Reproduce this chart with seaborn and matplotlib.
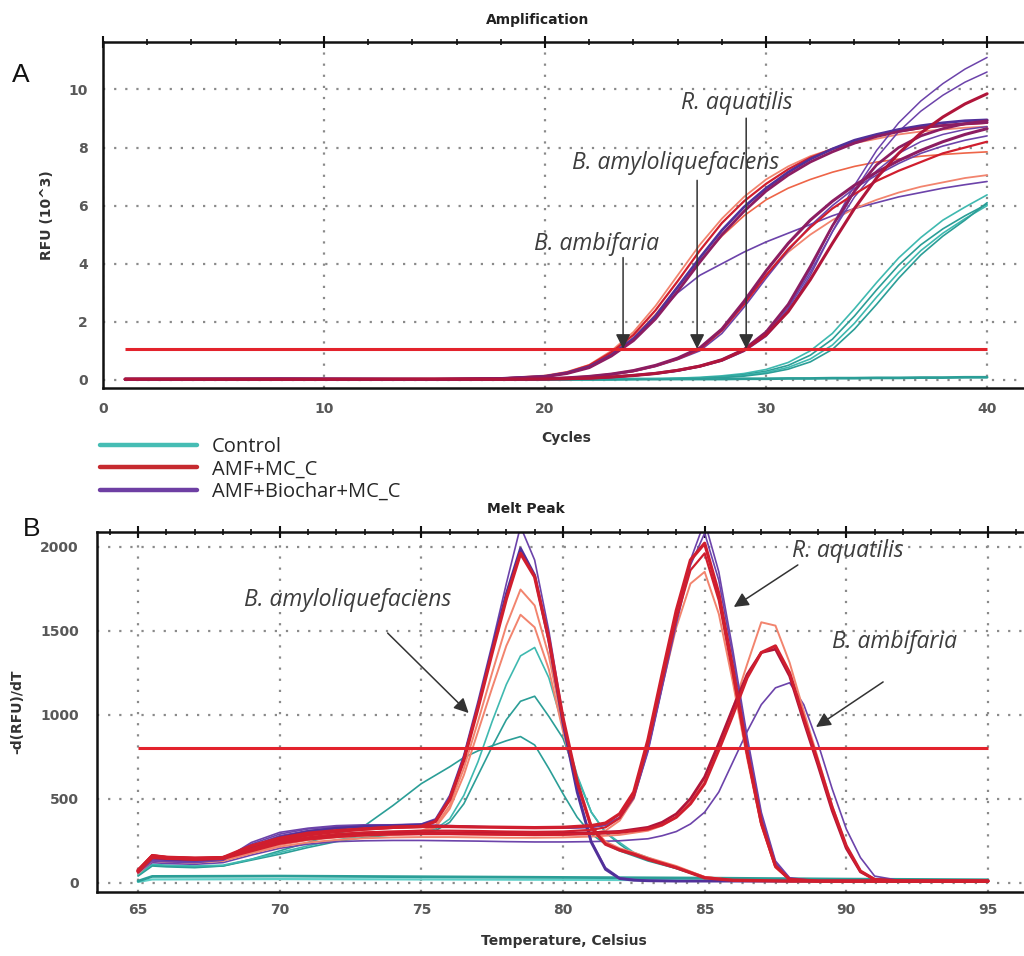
import numpy as np
import pandas as pd
import matplotlib
matplotlib.use("Agg")
import matplotlib.pyplot as plt
from matplotlib.lines import Line2D
from matplotlib.ticker import MultipleLocator
import seaborn as sns

sns.set_style("white")
plt.rcParams['font.family'] = ['DejaVu Sans']

# ---------------- Panel A: amplification (RFU x 10^3) ----------------
CYCLES = [1, 8, 15, 18, 20, 21, 22, 23, 24, 25, 26, 27, 28, 29, 30, 31, 32, 33, 34, 35, 36, 37, 38, 39, 40]

# Control wells
ctrl_1 = [0.01, 0.02, 0.01, 0.01, 0.01, 0.01, 0.02, 0.02, 0.03, 0.04, 0.06, 0.09, 0.14, 0.22, 0.36, 0.6, 1.0, 1.6, 2.45, 3.35, 4.2, 4.9, 5.5, 5.95, 6.37]
ctrl_2 = [0.01, 0.01, 0.02, 0.01, 0.01, 0.01, 0.01, 0.02, 0.02, 0.03, 0.05, 0.07, 0.11, 0.18, 0.3, 0.5, 0.85, 1.4, 2.2, 3.1, 3.95, 4.65, 5.2, 5.65, 6.05]
ctrl_3 = [0.01, 0.01, 0.01, 0.01, 0.01, 0.01, 0.01, 0.02, 0.02, 0.03, 0.04, 0.06, 0.09, 0.15, 0.26, 0.43, 0.72, 1.2, 1.95, 2.85, 3.7, 4.45, 5.05, 5.55, 6.0]
ctrl_4 = [0.01, 0.02, 0.01, 0.01, 0.01, 0.01, 0.01, 0.01, 0.02, 0.02, 0.03, 0.05, 0.08, 0.13, 0.22, 0.37, 0.62, 1.05, 1.75, 2.6, 3.5, 4.3, 4.95, 5.5, 6.1]
ctrl_flat = [0.02, 0.02, 0.02, 0.02, 0.02, 0.02, 0.02, 0.02, 0.03, 0.03, 0.03, 0.03, 0.03, 0.04, 0.04, 0.05, 0.05, 0.06, 0.06, 0.07, 0.07, 0.08, 0.08, 0.09, 0.09]

# early wells (B. ambifaria, Ct ~23.5)
amb_salmon = [0.02, 0.03, 0.03, 0.06, 0.15, 0.28, 0.52, 1.0, 1.65, 2.55, 3.6, 4.65, 5.55, 6.3, 6.9, 7.35, 7.7, 7.95, 8.15, 8.3, 8.45, 8.55, 8.62, 8.68, 8.72]
amb_purple = [0.03, 0.04, 0.02, 0.05, 0.12, 0.24, 0.45, 0.85, 1.4, 2.2, 3.2, 4.2, 5.15, 5.95, 6.6, 7.15, 7.6, 7.95, 8.25, 8.45, 8.62, 8.75, 8.85, 8.92, 8.95]
amb_red = [0.02, 0.02, 0.03, 0.05, 0.13, 0.26, 0.5, 0.95, 1.55, 2.4, 3.4, 4.45, 5.4, 6.15, 6.75, 7.25, 7.65, 7.95, 8.2, 8.4, 8.55, 8.67, 8.75, 8.8, 8.85]
amb_purple_low = [0.02, 0.03, 0.02, 0.05, 0.12, 0.24, 0.46, 0.88, 1.45, 2.2, 3.0, 3.6, 4.0, 4.4, 4.75, 5.05, 5.35, 5.65, 5.9, 6.1, 6.3, 6.45, 6.6, 6.72, 6.83]
amb_orange = [0.03, 0.02, 0.03, 0.05, 0.12, 0.24, 0.46, 0.9, 1.45, 2.25, 3.2, 4.1, 4.95, 5.65, 6.2, 6.6, 6.9, 7.15, 7.35, 7.5, 7.6, 7.7, 7.76, 7.81, 7.85]
amb_magenta = [0.02, 0.03, 0.02, 0.04, 0.11, 0.22, 0.42, 0.82, 1.35, 2.1, 3.05, 4.05, 5.0, 5.8, 6.5, 7.05, 7.5, 7.85, 8.15, 8.38, 8.55, 8.68, 8.76, 8.82, 8.86]

# middle wells (B. amyloliquefaciens, Ct ~27)
amy_magenta = [0.02, 0.03, 0.02, 0.02, 0.04, 0.07, 0.12, 0.2, 0.32, 0.5, 0.75, 1.1, 1.75, 2.7, 3.75, 4.7, 5.5, 6.15, 6.7, 7.15, 7.55, 7.9, 8.2, 8.45, 8.65]
amy_red = [0.02, 0.02, 0.03, 0.03, 0.04, 0.07, 0.11, 0.19, 0.3, 0.48, 0.72, 1.05, 1.7, 2.6, 3.6, 4.5, 5.25, 5.9, 6.4, 6.85, 7.2, 7.5, 7.8, 8.0, 8.2]
amy_purple = [0.03, 0.03, 0.02, 0.03, 0.04, 0.06, 0.11, 0.18, 0.29, 0.46, 0.7, 1.0, 1.6, 2.5, 3.5, 4.45, 5.3, 6.0, 6.6, 7.05, 7.45, 7.8, 8.05, 8.25, 8.4]
amy_salmon = [0.02, 0.03, 0.02, 0.03, 0.05, 0.08, 0.13, 0.21, 0.33, 0.5, 0.75, 1.1, 1.75, 2.65, 3.6, 4.4, 5.0, 5.5, 5.9, 6.2, 6.45, 6.65, 6.8, 6.95, 7.05]

# late wells (R. aquatilis, Ct ~29)
aqu_purple_1 = [0.02, 0.02, 0.02, 0.02, 0.02, 0.04, 0.06, 0.1, 0.15, 0.22, 0.32, 0.48, 0.7, 1.05, 1.6, 2.5, 3.8, 5.3, 6.7, 7.9, 8.85, 9.6, 10.2, 10.7, 11.1]
aqu_purple_2 = [0.02, 0.03, 0.02, 0.02, 0.02, 0.03, 0.05, 0.09, 0.14, 0.2, 0.3, 0.45, 0.65, 0.98, 1.5, 2.35, 3.6, 5.1, 6.5, 7.65, 8.55, 9.25, 9.8, 10.25, 10.6]
aqu_red = [0.03, 0.02, 0.03, 0.02, 0.03, 0.04, 0.06, 0.1, 0.15, 0.22, 0.33, 0.47, 0.68, 1.02, 1.55, 2.35, 3.45, 4.7, 5.9, 6.95, 7.8, 8.5, 9.05, 9.5, 9.85]
aqu_magenta = [0.02, 0.02, 0.02, 0.03, 0.03, 0.04, 0.06, 0.1, 0.16, 0.23, 0.33, 0.48, 0.7, 1.05, 1.65, 2.6, 3.9, 5.3, 6.5, 7.4, 8.0, 8.4, 8.65, 8.82, 8.92]
aqu_purple_3 = [0.02, 0.03, 0.02, 0.02, 0.03, 0.04, 0.06, 0.09, 0.14, 0.21, 0.31, 0.45, 0.66, 1.0, 1.55, 2.45, 3.7, 5.1, 6.3, 7.2, 7.8, 8.2, 8.45, 8.62, 8.72]

AMP_THRESHOLD = 1.07

# ---------------- Panel B: melt peaks (-d(RFU)/dT) ----------------
T_PEAK1 = [65, 65.5, 66, 67, 68, 69, 70, 71, 72, 73, 74, 75, 75.5, 76, 76.5, 77, 77.5, 78, 78.5, 79, 79.5,
           80, 80.5, 81, 81.5, 82, 82.5, 83, 84, 85, 86, 88, 95]
p1_purple = [60, 140, 130, 125, 140, 230, 290, 320, 335, 340, 345, 350, 380, 520, 760, 1080, 1420, 1780, 2120, 1920, 1500,
             990, 560, 250, 90, 30, 20, 15, 12, 10, 10, 10, 10]
p1_purple_d = [70, 150, 140, 135, 145, 210, 270, 305, 325, 335, 340, 345, 370, 500, 740, 1050, 1390, 1720, 1990, 1830, 1440,
               950, 540, 240, 80, 25, 15, 12, 10, 10, 10, 10, 10]
p1_red = [75, 160, 150, 140, 150, 220, 265, 295, 310, 320, 330, 335, 365, 495, 730, 1040, 1370, 1690, 1960, 1820, 1450,
          980, 600, 330, 230, 195, 170, 140, 90, 30, 15, 10, 10]
p1_salmon_1 = [65, 145, 135, 130, 140, 200, 245, 275, 290, 300, 305, 310, 340, 460, 680, 960, 1250, 1530, 1745, 1650, 1350,
               930, 590, 340, 240, 200, 175, 145, 95, 35, 15, 10, 10]
p1_salmon_2 = [60, 140, 130, 125, 135, 190, 235, 265, 280, 290, 295, 300, 330, 440, 640, 900, 1160, 1410, 1595, 1520, 1270,
               900, 580, 340, 245, 205, 180, 150, 100, 35, 15, 10, 10]
p1_teal_1 = [50, 110, 105, 100, 105, 140, 180, 220, 255, 280, 295, 305, 320, 380, 520, 720, 960, 1180, 1350, 1400, 1220,
             930, 640, 420, 300, 240, 180, 150, 90, 30, 15, 10, 10]
p1_teal_2 = [45, 105, 100, 95, 100, 135, 170, 210, 245, 270, 285, 295, 310, 360, 470, 640, 810, 970, 1080, 1110, 990,
             860, 630, 420, 300, 230, 170, 140, 85, 30, 15, 10, 10]
p1_teal_3 = [40, 100, 95, 90, 100, 140, 190, 240, 290, 340, 460, 590, 640, 690, 745, 785, 815, 845, 870, 820, 680,
             530, 390, 290, 230, 190, 160, 130, 85, 30, 15, 10, 10]

T_PEAK2 = [65, 65.5, 66, 67, 68, 69, 70, 71, 72, 73, 74, 75, 76, 77, 78, 79, 80, 81,
           81.5, 82, 82.5, 83, 83.5, 84, 84.5, 85, 85.5, 86, 86.5, 87, 87.5, 88, 89, 90, 95]
p2_purple_1 = [60, 130, 125, 120, 135, 240, 300, 325, 340, 345, 345, 345, 340, 335, 330, 328, 325, 330,
               345, 390, 510, 790, 1170, 1560, 1920, 2150, 1850, 1380, 870, 420, 130, 30, 10, 10, 10]
p2_purple_2 = [65, 135, 130, 125, 135, 220, 280, 310, 330, 338, 340, 340, 338, 333, 330, 326, 325, 330,
               342, 385, 505, 780, 1160, 1540, 1890, 2080, 1800, 1340, 840, 400, 120, 25, 10, 10, 10]
p2_red_1 = [70, 160, 150, 145, 150, 200, 250, 285, 305, 320, 330, 335, 335, 332, 330, 328, 330, 340,
            355, 410, 540, 850, 1240, 1620, 1920, 2020, 1720, 1270, 780, 360, 100, 20, 10, 10, 10]
p2_red_2 = [75, 165, 155, 150, 150, 195, 240, 270, 290, 300, 305, 310, 310, 308, 305, 303, 305, 315,
            330, 385, 515, 820, 1200, 1570, 1860, 1960, 1680, 1240, 760, 350, 95, 20, 10, 10, 10]
p2_salmon = [60, 140, 135, 130, 135, 180, 225, 255, 270, 280, 285, 290, 290, 288, 285, 283, 285, 295,
             310, 370, 500, 800, 1170, 1520, 1780, 1850, 1600, 1190, 740, 340, 90, 20, 10, 10, 10]

T_PEAK3 = [65, 65.5, 66, 67, 68, 69, 70, 71, 72, 73, 74, 75, 76, 77, 78, 79, 80, 81, 82, 83,
           83.5, 84, 84.5, 85, 85.5, 86, 86.5, 87, 87.5, 88, 88.5, 89, 89.5, 90, 90.5, 91, 92, 95]
p3_salmon = [55, 130, 125, 120, 130, 175, 215, 240, 255, 265, 270, 272, 272, 270, 268, 268, 270, 275, 285, 310,
             340, 390, 480, 620, 810, 1040, 1300, 1550, 1530, 1310, 1020, 740, 460, 220, 70, 20, 10, 10]
p3_red_1 = [65, 150, 145, 140, 145, 190, 235, 260, 275, 285, 290, 292, 292, 290, 288, 287, 288, 292, 300, 320,
            345, 390, 470, 590, 790, 1000, 1220, 1370, 1410, 1250, 980, 720, 450, 220, 70, 20, 10, 10]
p3_red_2 = [70, 155, 150, 145, 150, 195, 240, 265, 280, 290, 295, 298, 298, 296, 294, 293, 294, 298, 306, 330,
            360, 410, 500, 630, 830, 1040, 1240, 1370, 1390, 1230, 960, 700, 430, 205, 65, 20, 10, 10]
p3_purple = [60, 120, 115, 110, 120, 165, 205, 230, 245, 250, 252, 252, 250, 248, 245, 243, 243, 245, 250, 262,
             280, 305, 350, 420, 540, 720, 900, 1060, 1160, 1190, 1060, 830, 560, 320, 150, 40, 10, 10]

T_FLAT = [65, 65.5, 70, 75, 80, 85, 90, 95]
flat_teal_1 = [10, 38, 40, 36, 32, 28, 22, 18]
flat_teal_2 = [5, 20, 22, 20, 18, 15, 12, 10]

MELT_THRESHOLD = 800

# tick labels
AMP_XTICKS = [0, 10, 20, 30, 40]
AMP_YTICKS = [0, 2, 4, 6, 8, 10]
MELT_XTICKS = [65, 70, 75, 80, 85, 90, 95]
MELT_YTICKS = [0, 500, 1000, 1500, 2000]

GROUPS = ["Control", "AMF+MC_C", "AMF+Biochar+MC_C"]

# colours
TEAL = "#3fb9b0"
TEAL_D = "#2b9e97"
RED = "#d01e2e"
RED_D = "#b0153a"
SALMON = "#f2846e"
ORANGE = "#ee6548"
PURPLE = "#6c43aa"
PURPLE_D = "#51309a"
MAGENTA = "#8c1d62"
THRESH_RED = "#e3232c"

# (name, values, colour, width) in drawing order
amp_wells = [
    ("ctrl_flat", ctrl_flat, TEAL_D, 2.0),
    ("ctrl_1", ctrl_1, TEAL, 1.2), ("ctrl_2", ctrl_2, TEAL_D, 1.2),
    ("ctrl_3", ctrl_3, TEAL, 1.2), ("ctrl_4", ctrl_4, TEAL_D, 1.2),
    ("amb_salmon", amb_salmon, SALMON, 1.3), ("amb_orange", amb_orange, ORANGE, 1.2),
    ("amb_purple_low", amb_purple_low, PURPLE, 1.2),
    ("amy_salmon", amy_salmon, SALMON, 1.3), ("amy_purple", amy_purple, PURPLE, 1.2),
    ("aqu_purple_1", aqu_purple_1, PURPLE, 1.1), ("aqu_purple_2", aqu_purple_2, PURPLE, 1.1),
    ("aqu_purple_3", aqu_purple_3, PURPLE, 1.1),
    ("amb_red", amb_red, RED, 1.6), ("amb_purple", amb_purple, PURPLE_D, 2.0),
    ("amb_magenta", amb_magenta, MAGENTA, 2.0),
    ("amy_red", amy_red, RED, 1.6), ("amy_magenta", amy_magenta, MAGENTA, 2.2),
    ("aqu_magenta", aqu_magenta, MAGENTA, 2.0), ("aqu_red", aqu_red, RED_D, 2.2),
]

melt_wells = [
    ("flat_teal_2", T_FLAT, flat_teal_2, "#5fd0c8", 1.6), ("flat_teal_1", T_FLAT, flat_teal_1, TEAL_D, 2.0),
    ("p1_teal_3", T_PEAK1, p1_teal_3, TEAL_D, 1.2), ("p1_teal_2", T_PEAK1, p1_teal_2, TEAL_D, 1.2),
    ("p1_teal_1", T_PEAK1, p1_teal_1, TEAL, 1.2),
    ("p3_purple", T_PEAK3, p3_purple, PURPLE, 1.2), ("p3_salmon", T_PEAK3, p3_salmon, SALMON, 1.4),
    ("p2_salmon", T_PEAK2, p2_salmon, SALMON, 1.4), ("p1_salmon_2", T_PEAK1, p1_salmon_2, SALMON, 1.4),
    ("p1_salmon_1", T_PEAK1, p1_salmon_1, SALMON, 1.4),
    ("p2_purple_1", T_PEAK2, p2_purple_1, PURPLE, 1.2), ("p2_purple_2", T_PEAK2, p2_purple_2, PURPLE, 1.2),
    ("p1_purple", T_PEAK1, p1_purple, PURPLE, 1.2), ("p1_purple_d", T_PEAK1, p1_purple_d, PURPLE_D, 2.0),
    ("p3_red_2", T_PEAK3, p3_red_2, RED_D, 2.0), ("p3_red_1", T_PEAK3, p3_red_1, RED, 2.2),
    ("p2_red_2", T_PEAK2, p2_red_2, RED, 1.6), ("p2_red_1", T_PEAK2, p2_red_1, RED, 2.4),
    ("p1_red", T_PEAK1, p1_red, RED, 2.4),
]

df_amp = pd.concat([pd.DataFrame({"cycle": CYCLES, "rfu": v, "well": n}) for n, v, c, w in amp_wells])
df_melt = pd.concat([pd.DataFrame({"temp": t, "dfdt": v, "well": n}) for n, t, v, c, w in melt_wells])

amp_order = [w[0] for w in amp_wells]
melt_order = [w[0] for w in melt_wells]

fig = plt.figure(figsize=(10.24, 9.56), dpi=100)
ax_a = fig.add_axes([0.1006, 0.5941, 0.9102, 0.3619])
ax_b = fig.add_axes([0.0947, 0.0669, 0.9160, 0.3766])

sns.lineplot(data=df_amp, x="cycle", y="rfu", hue="well", size="well",
             hue_order=amp_order, size_order=amp_order,
             palette={w[0]: w[2] for w in amp_wells}, sizes={w[0]: w[3] for w in amp_wells},
             estimator=None, sort=False, legend=False, ax=ax_a)
sns.lineplot(data=df_melt, x="temp", y="dfdt", hue="well", size="well",
             hue_order=melt_order, size_order=melt_order,
             palette={w[0]: w[3] for w in melt_wells}, sizes={w[0]: w[4] for w in melt_wells},
             estimator=None, sort=False, legend=False, ax=ax_b)

ax_a.hlines(AMP_THRESHOLD, CYCLES[0], CYCLES[-1], color=THRESH_RED, lw=2.2, zorder=5)
ax_b.hlines(MELT_THRESHOLD, T_PEAK1[0], T_PEAK1[-1], color=THRESH_RED, lw=2.2, zorder=5)

ax_a.set_xlim(0, 42.17)
ax_a.set_ylim(-0.28, 11.63)
ax_b.set_xlim(63.55, 96.66)
ax_b.set_ylim(-55, 2087)


def style_axes(ax, xticks, yticks, xminor, yminor, xpad, ypad):
    ax.set_xticks(xticks)
    ax.set_yticks(yticks)
    ax.set_xticklabels([str(t) for t in xticks], fontweight="bold", fontsize=10, color="#585858")
    ax.set_yticklabels([str(t) for t in yticks], fontweight="bold", fontsize=10, color="#585858")
    ax.xaxis.set_minor_locator(MultipleLocator(xminor))
    ax.yaxis.set_minor_locator(MultipleLocator(yminor))
    ax.tick_params(which="major", direction="inout", length=8, width=1.5, top=True, colors="#111")
    ax.tick_params(which="minor", direction="inout", length=5, width=1.2, top=True, colors="#111")
    ax.tick_params(axis="x", which="major", pad=xpad, labelcolor="#585858")
    ax.tick_params(axis="y", which="major", pad=ypad, labelcolor="#585858")
    ax.grid(True, which="major", color="#8a8a8a", linestyle=(0, (1, 4)), linewidth=1.6)
    for s in ax.spines.values():
        s.set_color("#111")
        s.set_linewidth(1.8)
    ax.set_axisbelow(True)


style_axes(ax_a, AMP_XTICKS, AMP_YTICKS, 2, 0.5, 6, 7)
style_axes(ax_b, MELT_XTICKS, MELT_YTICKS, 1, 100, 4, 9)

ax_a.set_xlabel("Cycles", fontsize=10, fontweight="bold", color="#333")
ax_a.set_ylabel("RFU (10^3)", fontsize=10, fontweight="bold", color="#333")
ax_a.xaxis.set_label_coords(0.497, -0.124)
ax_a.yaxis.set_label_coords(-0.053, 0.5)
ax_b.set_xlabel("Temperature, Celsius", fontsize=10, fontweight="bold", color="#333")
ax_b.set_ylabel("-d(RFU)/dT", fontsize=10, fontweight="bold", color="#333")
ax_b.xaxis.set_label_coords(0.498, -0.117)
ax_b.yaxis.set_label_coords(-0.077, 0.5)

fig.text(538 / 1024, 1 - 20 / 956, "Amplification", ha="center", va="center",
         fontsize=10, fontweight="bold", color="#222")
fig.text(526 / 1024, 1 - 509 / 956, "Melt Peak", ha="center", va="center",
         fontsize=10, fontweight="bold", color="#222")

fig.text(21 / 1024, 1 - 75 / 956, "A", ha="center", va="center", fontsize=19, family="Liberation Sans", color="#111")
fig.text(32 / 1024, 1 - 529 / 956, "B", ha="center", va="center", fontsize=19, family="Liberation Sans", color="#111")

# species annotations
ann_font = dict(style="italic", family="Open Sans", fontsize=16.5, color="#3d3d3d", ha="center", va="center")
arrow = dict(arrowstyle="-|>", color="#333", lw=1.1, mutation_scale=22, shrinkA=0, shrinkB=0)

ax_a.text(28.69, 9.53, "R. aquatilis", **ann_font)
ax_a.annotate("", xy=(29.1, AMP_THRESHOLD), xytext=(29.1, 9.01), arrowprops=arrow)
ax_a.text(25.93, 7.46, "B. amyloliquefaciens", **ann_font)
ax_a.annotate("", xy=(26.88, AMP_THRESHOLD), xytext=(26.88, 6.87), arrowprops=arrow)
ax_a.text(22.35, 4.69, "B. ambifaria", **ann_font)
ax_a.annotate("", xy=(23.53, AMP_THRESHOLD), xytext=(23.53, 4.21), arrowprops=arrow)

ax_b.text(72.4, 1683, "B. amyloliquefaciens", **ann_font)
ax_b.annotate("", xy=(76.67, 1010), xytext=(73.81, 1486), arrowprops=arrow)
ax_b.text(90.06, 1974, "R. aquatilis", **ann_font)
ax_b.annotate("", xy=(86.03, 1641), xytext=(88.29, 1891), arrowprops=arrow)
ax_b.text(91.69, 1433, "B. ambifaria", **ann_font)
ax_b.annotate("", xy=(88.93, 927), xytext=(91.30, 1195), arrowprops=arrow)

# legend between the panels
handles = [Line2D([], [], color=c, lw=3.2) for c in ["#46bdb4", "#c62a2f", "#6e3fa3"]]
fig.legend(handles, GROUPS, loc="upper left", bbox_to_anchor=(100 / 1024, 1 - 437 / 956),
           frameon=False, borderpad=0, borderaxespad=0, handlelength=4.8, handletextpad=0.75,
           labelspacing=0.12, prop={"family": "Open Sans", "size": 14.5})

fig.savefig("out.png", dpi=100)
